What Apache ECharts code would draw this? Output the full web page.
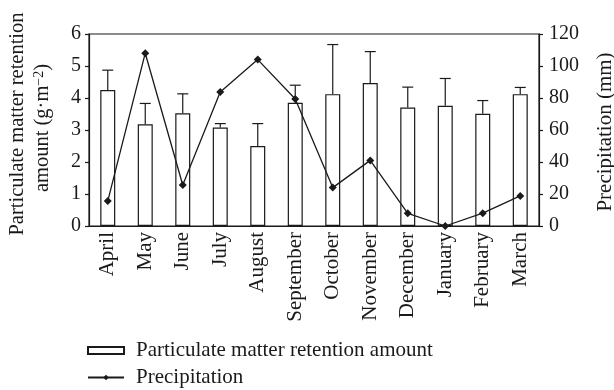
<!DOCTYPE html>
<html>
<head>
<meta charset="utf-8">
<script src="https://cdn.jsdelivr.net/npm/echarts@6/dist/echarts.min.js"></script>
<style>
  html, body { margin: 0; padding: 0; background: #fff; }
  #chart { width: 614px; height: 390px; }
</style>
</head>
<body>
<div id="chart"></div>
<script>
// Monthly particulate matter retention (mean with SD) and precipitation
const months = ['April', 'May', 'June', 'July', 'August', 'September',
  'October', 'November', 'December', 'January', 'February', 'March'];
const retention = [4.25, 3.18, 3.52, 3.08, 2.50, 3.85, 4.12, 4.47, 3.70, 3.76, 3.51, 4.12];
const retentionSd = [0.62, 0.65, 0.61, 0.12, 0.70, 0.55, 1.55, 0.98, 0.64, 0.85, 0.41, 0.21];
const precipitation = [15.6, 108, 25.6, 83.8, 104, 79.4, 24, 41, 7.9, 0, 8, 18.8];
const leftTicks = [0, 1, 2, 3, 4, 5, 6];
const rightTicks = [0, 20, 40, 60, 80, 100, 120];

const FONT = 'Liberation Serif';
const INK = '#1a1a1a';

const chart = echarts.init(document.getElementById('chart'));

chart.setOption({
  animation: false,
  backgroundColor: '#fff',
  textStyle: { fontFamily: FONT, color: INK },
  grid: {
    left: 89, right: 75, top: 34, bottom: 164,
    show: true, borderColor: INK, borderWidth: 1.2, backgroundColor: 'transparent'
  },
  legend: {
    orient: 'vertical',
    left: 87,
    top: 340,
    padding: 0,
    itemWidth: 36,
    itemHeight: 7,
    itemGap: 6,
    textStyle: { fontFamily: FONT, fontSize: 21, lineHeight: 21, color: INK, padding: [0, 0, 0, 7] },
    data: [
      { name: 'Particulate matter retention amount', icon: 'rect' },
      { name: 'Precipitation' }
    ]
  },
  xAxis: {
    type: 'category',
    data: months,
    boundaryGap: true,
    axisLine: { lineStyle: { color: INK, width: 1.2 } },
    axisTick: { inside: true, length: 4, lineStyle: { color: INK, width: 1.2 } },
    axisLabel: {
      rotate: 90, interval: 0, margin: 6,
      fontFamily: FONT, fontSize: 21, color: INK
    }
  },
  yAxis: [
    {
      type: 'value', min: 0, max: 6, interval: 1,
      splitLine: { show: false },
      axisLine: { show: true, lineStyle: { color: INK, width: 1.2 } },
      axisTick: { show: true, length: 4, lineStyle: { color: INK, width: 1.2 } },
      axisLabel: {
        margin: 8, fontFamily: FONT, fontSize: 20, color: INK,
        formatter: v => leftTicks.includes(v) ? String(v) : ''
      }
    },
    {
      type: 'value', min: 0, max: 120, interval: 20,
      splitLine: { show: false },
      axisLine: { show: true, lineStyle: { color: INK, width: 1.2 } },
      axisTick: { show: true, length: 4, lineStyle: { color: INK, width: 1.2 } },
      axisLabel: {
        margin: 10, fontFamily: FONT, fontSize: 20, color: INK,
        formatter: v => rightTicks.includes(v) ? String(v) : ''
      }
    }
  ],
  graphic: [
    {
      type: 'text',
      x: 18, y: 124, rotation: Math.PI / 2,
      style: {
        text: 'Particulate matter retention',
        fontFamily: FONT, fontSize: 20.5, fill: INK,
        align: 'center', verticalAlign: 'middle'
      }
    },
    {
      type: 'text',
      x: 43, y: 128, rotation: Math.PI / 2,
      style: {
        text: 'amount (g·m{sup|−2})',
        fontFamily: FONT, fontSize: 20.5, fill: INK,
        align: 'center', verticalAlign: 'middle',
        rich: {
          sup: { fontFamily: FONT, fontSize: 14, fill: INK, verticalAlign: 'top', padding: [0, 0, 8, 0] }
        }
      }
    },
    {
      type: 'text',
      x: 605, y: 132, rotation: Math.PI / 2,
      style: {
        text: 'Precipitation (mm)',
        fontFamily: FONT, fontSize: 21, fill: INK,
        align: 'center', verticalAlign: 'middle'
      }
    }
  ],
  series: [
    {
      name: 'Particulate matter retention amount',
      type: 'bar',
      yAxisIndex: 0,
      data: retention,
      barWidth: '40%',
      itemStyle: { color: '#fff', borderColor: INK, borderWidth: 1.2 },
      z: 2
    },
    {
      name: 'Retention SD',
      type: 'custom',
      yAxisIndex: 0,
      data: retention.map((m, i) => [i, m, m + retentionSd[i]]),
      renderItem: function (params, api) {
        const base = api.coord([api.value(0), api.value(1)]);
        const top = api.coord([api.value(0), api.value(2)]);
        const half = 5.5;
        const style = { stroke: INK, lineWidth: 1.2 };
        return {
          type: 'group',
          children: [
            { type: 'line', shape: { x1: base[0], y1: base[1], x2: top[0], y2: top[1] }, style },
            { type: 'line', shape: { x1: top[0] - half, y1: top[1], x2: top[0] + half, y2: top[1] }, style }
          ]
        };
      },
      z: 3
    },
    {
      name: 'Precipitation',
      type: 'line',
      yAxisIndex: 1,
      data: precipitation,
      symbol: 'diamond',
      symbolSize: 8,
      lineStyle: { color: INK, width: 1.3 },
      itemStyle: { color: INK },
      z: 4
    }
  ]
});
</script>
</body>
</html>
